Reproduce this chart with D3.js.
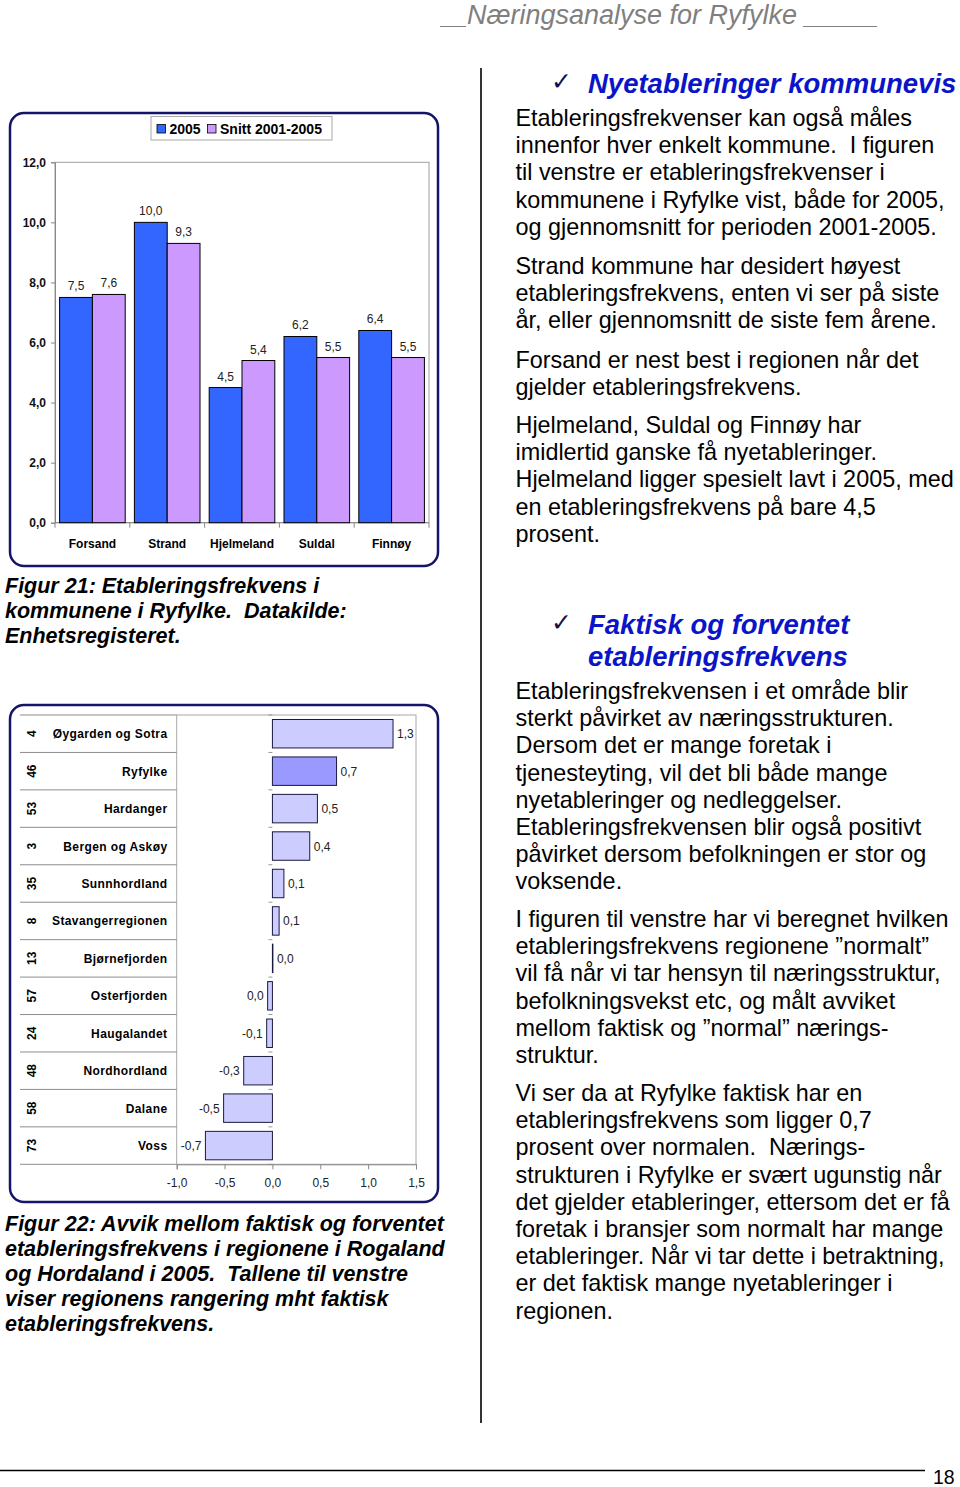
<!DOCTYPE html>
<html>
<head>
<meta charset="utf-8">
<script src="https://cdn.jsdelivr.net/npm/d3@7"></script>
<style>
  body { margin: 0; background: #fff; }
  svg { display: block; font-family: "Liberation Sans", Arial, Helvetica, sans-serif; }
  svg text { white-space: pre; }
</style>
</head>
<body>
<svg id="page" width="960" height="1487"></svg>
<script>
// Figur 21 - etableringsfrekvens per kommune
const kommuner = ["Forsand", "Strand", "Hjelmeland", "Suldal", "Finnøy"];
const serier = ["2005", "Snitt 2001-2005"];
const verdier2005 = [7.5, 10.0, 4.5, 6.2, 6.4];
const verdierSnitt = [7.6, 9.3, 5.4, 5.5, 5.5];
const yTicks = [0, 2, 4, 6, 8, 10, 12];

// Figur 22 - avvik faktisk / forventet
const regioner = ["Øygarden og Sotra", "Ryfylke", "Hardanger", "Bergen og Askøy", "Sunnhordland",
  "Stavangerregionen", "Bjørnefjorden", "Osterfjorden", "Haugalandet", "Nordhordland", "Dalane", "Voss"];
const rangering = [4, 46, 53, 3, 35, 8, 13, 57, 24, 48, 58, 73];
const avvik = [1.26, 0.67, 0.47, 0.39, 0.12, 0.07, 0.005, -0.05, -0.06, -0.3, -0.51, -0.7];
const xTicks = [-1, -0.5, 0, 0.5, 1, 1.5];

const tittel = "Næringsanalyse for Ryfylke";
const sidetall = "18";

const fig21 = ["Figur 21: Etableringsfrekvens i", "kommunene i Ryfylke.  Datakilde:", "Enhetsregisteret."];
const fig22 = ["Figur 22: Avvik mellom faktisk og forventet", "etableringsfrekvens i regionene i Rogaland",
  "og Hordaland i 2005.  Tallene til venstre", "viser regionens rangering mht faktisk", "etableringsfrekvens."];

const overskrift1 = ["Nyetableringer kommunevis"];
const overskrift2 = ["Faktisk og forventet", "etableringsfrekvens"];
const avsnitt = [
  ["Etableringsfrekvenser kan også måles", "innenfor hver enkelt kommune.  I figuren",
   "til venstre er etableringsfrekvenser i", "kommunene i Ryfylke vist, både for 2005,",
   "og gjennomsnitt for perioden 2001-2005."],
  ["Strand kommune har desidert høyest", "etableringsfrekvens, enten vi ser på siste",
   "år, eller gjennomsnitt de siste fem årene."],
  ["Forsand er nest best i regionen når det", "gjelder etableringsfrekvens."],
  ["Hjelmeland, Suldal og Finnøy har", "imidlertid ganske få nyetableringer.",
   "Hjelmeland ligger spesielt lavt i 2005, med", "en etableringsfrekvens på bare 4,5", "prosent."],
  ["Etableringsfrekvensen i et område blir", "sterkt påvirket av næringsstrukturen.",
   "Dersom det er mange foretak i", "tjenesteyting, vil det bli både mange",
   "nyetableringer og nedleggelser.", "Etableringsfrekvensen blir også positivt",
   "påvirket dersom befolkningen er stor og", "voksende."],
  ["I figuren til venstre har vi beregnet hvilken", "etableringsfrekvens regionene \u201Dnormalt\u201D",
   "vil få når vi tar hensyn til næringsstruktur,", "befolkningsvekst etc, og målt avviket",
   "mellom faktisk og \u201Dnormal\u201D nærings-", "struktur."],
  ["Vi ser da at Ryfylke faktisk har en", "etableringsfrekvens som ligger 0,7",
   "prosent over normalen.  Nærings-", "strukturen i Ryfylke er svært ugunstig når",
   "det gjelder etableringer, ettersom det er få", "foretak i bransjer som normalt har mange",
   "etableringer. Når vi tar dette i betraktning,", "er det faktisk mange nyetableringer i", "regionen."]
];
const avsnittStart = [126, 274, 368, 433, 699, 927, 1101];

const locale = d3.formatLocale({ decimal: ",", thousands: " ", grouping: [3], currency: ["", ""], minus: "-" });
const fmt = v => locale.format(".1f")(Math.round(v * 10) / 10 || 0);

const svg = d3.select("#page");

// ---- sidehode, skillelinje, bunntekst ----
svg.append("line").attr("x1", 440).attr("x2", 877).attr("y1", 26.5).attr("y2", 26.5)
  .attr("stroke", "#808080").attr("stroke-width", 1.2);
svg.append("rect").attr("x", 466).attr("y", 20).attr("width", 337).attr("height", 12).attr("fill", "#fff");
svg.append("text").attr("x", 467).attr("y", 24).attr("font-size", 27).attr("font-style", "italic")
  .attr("fill", "#7f7f7f").text(tittel);

svg.append("line").attr("x1", 481).attr("x2", 481).attr("y1", 68).attr("y2", 1423)
  .attr("stroke", "#333").attr("stroke-width", 2);
svg.append("line").attr("x1", 0).attr("x2", 925).attr("y1", 1470.5).attr("y2", 1470.5)
  .attr("stroke", "#000").attr("stroke-width", 1.3);
svg.append("text").attr("x", 933).attr("y", 1484).attr("font-size", 19.5).text(sidetall);

// ---- figur 21 ----
function figur21() {
  const g = svg.append("g");
  g.append("rect").attr("x", 10).attr("y", 113).attr("width", 428).attr("height", 453)
    .attr("rx", 14).attr("fill", "#fff").attr("stroke", "#14146a").attr("stroke-width", 2.5);

  const left = 55, right = 429, top = 162.3, bottom = 522.7;
  const x0 = d3.scaleBand().domain(kommuner).range([left, right]);
  const x1 = d3.scaleBand().domain(serier).range([0, x0.bandwidth()]).paddingOuter(0.14);
  const y = d3.scaleLinear().domain([0, 12]).range([bottom, top]);
  const farger = d3.scaleOrdinal().domain(serier).range(["#3366ff", "#cc99ff"]);

  g.append("rect").attr("x", left).attr("y", top).attr("width", right - left).attr("height", bottom - top)
    .attr("fill", "none").attr("stroke", "#a0a0a0");

  const yAxis = g.append("g").attr("transform", `translate(${left},0)`)
    .call(d3.axisLeft(y).tickValues(yTicks).tickSize(4).tickPadding(5).tickFormat(fmt));
  yAxis.select(".domain").attr("stroke", "#888");
  yAxis.selectAll(".tick line").attr("stroke", "#888");
  yAxis.selectAll("text").attr("font-size", 12).attr("font-weight", "bold")
    .attr("font-family", "Liberation Sans, Arial, sans-serif").attr("fill", "#111");

  g.append("line").attr("x1", left).attr("x2", right).attr("y1", bottom).attr("y2", bottom).attr("stroke", "#888");
  g.selectAll(".ktick").data(kommuner.concat([null])).enter().append("line")
    .attr("x1", d => d ? x0(d) : right).attr("x2", d => d ? x0(d) : right)
    .attr("y1", bottom).attr("y2", bottom + 5).attr("stroke", "#888");

  const rader = kommuner.map((k, i) => ({ k, verdier: [verdier2005[i], verdierSnitt[i]] }));
  const grupper = g.selectAll(".gruppe").data(rader).enter().append("g")
    .attr("transform", d => `translate(${x0(d.k)},0)`);
  const stolper = grupper.selectAll("g").data(d => serier.map((s, j) => ({ s, v: d.verdier[j] }))).enter().append("g");
  stolper.append("rect")
    .attr("x", d => x1(d.s)).attr("y", d => y(d.v))
    .attr("width", x1.bandwidth()).attr("height", d => bottom - y(d.v))
    .attr("fill", d => farger(d.s)).attr("stroke", "#000").attr("stroke-width", 1);
  stolper.append("text")
    .attr("x", d => x1(d.s) + x1.bandwidth() / 2).attr("y", d => y(d.v) - 7)
    .attr("text-anchor", "middle").attr("font-size", 12).attr("fill", "#222")
    .text(d => fmt(d.v));

  g.selectAll(".klabel").data(kommuner).enter().append("text")
    .attr("x", d => x0(d) + x0.bandwidth() / 2).attr("y", 547.5)
    .attr("text-anchor", "middle").attr("font-size", 12).attr("font-weight", "bold").text(d => d);

  // tegnforklaring
  const leg = g.append("g");
  leg.append("rect").attr("x", 151).attr("y", 116.5).attr("width", 181).attr("height", 23.5)
    .attr("fill", "#fff").attr("stroke", "#a8a8a8");
  const legX = [157, 207.5];
  serier.forEach((s, i) => {
    leg.append("rect").attr("x", legX[i]).attr("y", 124.5).attr("width", 8.5).attr("height", 8.5)
      .attr("fill", farger(s)).attr("stroke", "#000").attr("stroke-width", 0.8);
    leg.append("text").attr("x", legX[i] + 12.5).attr("y", 134).attr("font-size", 14)
      .attr("font-weight", "bold").text(s);
  });
}

// ---- figur 22 ----
function figur22() {
  const g = svg.append("g");
  g.append("rect").attr("x", 10).attr("y", 705).attr("width", 428).attr("height", 497)
    .attr("rx", 14).attr("fill", "#fff").attr("stroke", "#14146a").attr("stroke-width", 2.5);

  const left = 176.7, right = 416, top = 715, bottom = 1164.3;
  const x = d3.scaleLinear().domain([-1, 1.5]).range([left, right]);
  const y = d3.scaleBand().domain(regioner).range([top, bottom]).paddingInner(0.24).paddingOuter(0.12);
  const step = y.step();

  g.append("rect").attr("x", left).attr("y", top).attr("width", right - left).attr("height", bottom - top)
    .attr("fill", "none").attr("stroke", "#a8a8a8");

  // skillelinjer i etikettfeltet
  const grenser = d3.range(regioner.length + 1).map(i => top + i * step);
  g.selectAll(".skille").data(grenser).enter().append("line")
    .attr("x1", 20).attr("x2", left).attr("y1", d => d).attr("y2", d => d)
    .attr("stroke", "#8c8c8c").attr("stroke-width", 1);
  // små merker på kategoriaksen ved null
  g.selectAll(".cmerke").data(grenser).enter().append("line")
    .attr("x1", x(0) - 4).attr("x2", x(0)).attr("y1", d => d).attr("y2", d => d)
    .attr("stroke", "#999");

  const xAxis = g.append("g").attr("transform", `translate(0,${bottom})`)
    .call(d3.axisBottom(x).tickValues(xTicks).tickSize(5).tickPadding(9).tickFormat(fmt));
  xAxis.select(".domain").attr("stroke", "#888");
  xAxis.selectAll(".tick line").attr("stroke", "#888");
  xAxis.selectAll("text").attr("font-size", 12).attr("fill", "#222")
    .attr("font-family", "Liberation Sans, Arial, sans-serif");

  const data = regioner.map((r, i) => ({ r, rang: rangering[i], v: avvik[i] }));
  g.selectAll(".stolpe").data(data).enter().append("rect")
    .attr("x", d => x(Math.min(0, d.v))).attr("y", d => y(d.r))
    .attr("width", d => Math.abs(x(d.v) - x(0))).attr("height", y.bandwidth())
    .attr("fill", d => d.r === "Ryfylke" ? "#9999ff" : "#ccccff")
    .attr("stroke", "#1a1a40").attr("stroke-width", 1);

  g.selectAll(".verdi").data(data).enter().append("text")
    .attr("x", d => d.v >= 0 ? x(d.v) + 4 : x(d.v) - 4)
    .attr("y", d => y(d.r) + y.bandwidth() / 2 + 4.5)
    .attr("text-anchor", d => d.v >= 0 ? "start" : "end")
    .attr("font-size", 12).attr("fill", "#222").text(d => fmt(d.v));

  g.selectAll(".region").data(data).enter().append("text")
    .attr("x", 167.5).attr("y", d => y(d.r) + y.bandwidth() / 2 + 4.5)
    .attr("text-anchor", "end").attr("font-size", 12).attr("font-weight", "bold")
    .attr("letter-spacing", 0.4).text(d => d.r);

  g.selectAll(".rang").data(data).enter().append("text")
    .attr("transform", d => `translate(35.5,${y(d.r) + y.bandwidth() / 2}) rotate(-90)`)
    .attr("text-anchor", "middle").attr("font-size", 12).attr("font-weight", "bold").text(d => d.rang);
}

// ---- tekst ----
function linjer(lines, x, y0, dy, attrs) {
  const t = svg.append("g");
  lines.forEach((l, i) => {
    const el = t.append("text").attr("x", x).attr("y", y0 + i * dy).text(l);
    Object.entries(attrs).forEach(([k, v]) => el.attr(k, v));
  });
}

figur21();
figur22();

const kursivFet = { "font-size": 21.5, "font-weight": "bold", "font-style": "italic", fill: "#000" };
linjer(fig21, 5, 593, 25, kursivFet);
linjer(fig22, 5, 1231, 25, kursivFet);

const overskrift = { "font-size": 27.5, "font-weight": "bold", "font-style": "italic", fill: "#0a14c8" };
linjer(overskrift1, 588, 93, 31, overskrift);
linjer(overskrift2, 588, 634, 31.5, overskrift);
[93, 634].forEach(yy => {
  svg.append("text").attr("x", 551).attr("y", yy - 3).attr("font-size", 25)
    .attr("font-family", "DejaVu Sans, sans-serif").attr("fill", "#101050").text("\u2713");
});

avsnitt.forEach((a, i) => linjer(a, 515.5, avsnittStart[i], 27.2, { "font-size": 23.4, fill: "#000" }));
</script>
</body>
</html>
